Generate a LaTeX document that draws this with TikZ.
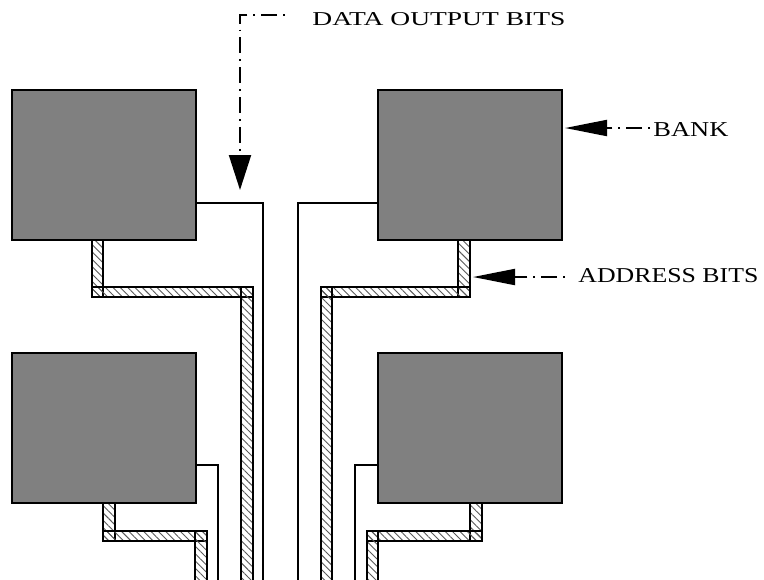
\documentclass[tikz,border=0pt]{standalone}
\usepackage{fontspec}
\setmainfont{Liberation Serif}
\usepackage{graphicx}
\usetikzlibrary{arrows.meta,patterns.meta,calc}
\definecolor{bankgray}{RGB}{128,128,128}
\definecolor{hatchgray}{RGB}{90,90,90}
\begin{document}
\begin{tikzpicture}[x=0.5pt,y=-0.5pt,
  bank/.style={draw=black, fill=bankgray, line width=0.9pt, minimum width=92pt, minimum height=75pt, inner sep=0pt, outer sep=0pt},
  wire/.style={line width=0.9pt},
  hatch/.style={draw=black, line width=0.9pt, pattern={Lines[angle=-45,distance=2.6pt,line width=0.45pt]}, pattern color=hatchgray},
  ptr/.style={line width=1pt, dash pattern=on 0.9pt off 3pt on 8pt off 3pt},
  lbl/.style={inner sep=0pt, anchor=base west}]
\useasboundingbox (0,0) rectangle (764,579);
\clip (0,0) rectangle (764,579);
% banks
\node[bank] (b1) at (104,165) {};
\node[bank] (b2) at (470,165) {};
\node[bank] (b3) at (104,428) {};
\node[bank] (b4) at (470,428) {};
% data output lines
\coordinate (bot) at (0,590);
\coordinate (d1) at (263,203);
\coordinate (d2) at (298,203);
\coordinate (d3) at (218,465);
\coordinate (d4) at (355,465);
\draw[wire] (b1.east |- d1) -- (d1) -- (d1 |- bot);
\draw[wire] (b2.west |- d2) -- (d2) -- (d2 |- bot);
\draw[wire] (b3.east |- d3) -- (d3) -- (d3 |- bot);
\draw[wire] (b4.west |- d4) -- (d4) -- (d4 |- bot);
% address buses (hatched)
\draw[hatch] (92,240) rectangle (103,297);
\draw[hatch] (92,287) rectangle (253,297);
\draw[hatch] (241,287) rectangle (253,590);
\draw[hatch] (458,240) rectangle (470,297);
\draw[hatch] (321,287) rectangle (470,297);
\draw[hatch] (321,287) rectangle (332,590);
\draw[hatch] (103,503) rectangle (115,541);
\draw[hatch] (103,531) rectangle (207,541);
\draw[hatch] (195,531) rectangle (207,590);
\draw[hatch] (470,503) rectangle (482,541);
\draw[hatch] (367,531) rectangle (482,541);
\draw[hatch] (367,531) rectangle (378,590);
% labels
\node[lbl] (tdata) at (312,25) {\resizebox{126.5pt}{6.5pt}{DATA OUTPUT BITS}};
\node[lbl] (tbank) at (653,136.5) {\resizebox{37.5pt}{7pt}{BANK}};
\node[lbl] (taddr) at (578,282) {\resizebox{90pt}{7pt}{ADDRESS BITS}};
% pointers
\coordinate (ds) at (285,15);
\coordinate (dc) at (240,15);
\coordinate (dt) at (240,190);
\draw[ptr, -{Triangle[length=17.5pt,width=11pt]}] (ds) -- (dc) -- (dt);
\coordinate (bs) at (650,128);
\coordinate (bt) at (565,128);
\draw[ptr, -{Triangle[length=21pt,width=8pt]}] (bs) -- (bt);
\coordinate (as) at (565,277);
\coordinate (at) at (473,277);
\draw[ptr, -{Triangle[length=21pt,width=8pt]}] (as) -- (at);
\end{tikzpicture}
\end{document}
